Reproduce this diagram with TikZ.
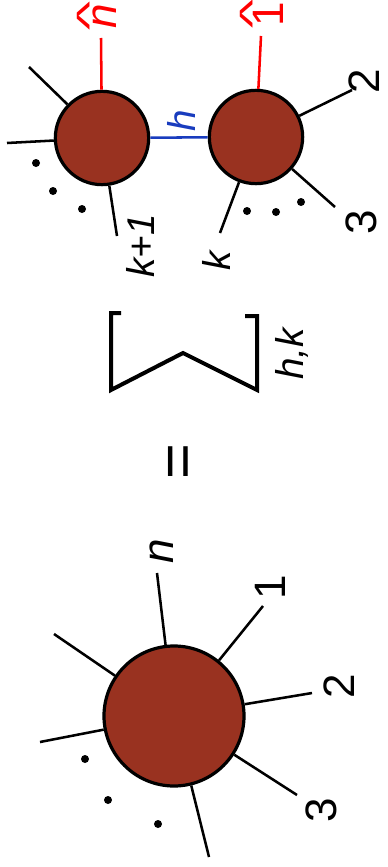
\documentclass[tikz,border=0pt]{standalone}
\usepackage{fontspec}
\setmainfont{Liberation Sans}
\usepackage{xcolor}
\usepackage{graphicx}
\usepackage{tikz}
\usetikzlibrary{calc}
\definecolor{blobbrown}{RGB}{153,50,32}
\definecolor{linkblue}{RGB}{25,60,190}
% letter with a wide hat stacked on it
\newcommand\hatted[2]{\leavevmode\vbox{\offinterlineskip\halign{\hfil##\hfil\cr
  \scalebox{1.4}[0.8]{\textasciicircum}\cr\noalign{\kern#2}#1\cr}}}

\begin{document}
\begin{tikzpicture}[x=0.75pt,y=-0.75pt,
  blob/.style={circle,draw=black,line width=2.4pt,fill=blobbrown,inner sep=0pt},
  leg/.style={line width=1.9pt},
  lab/.style={rotate=90,inner sep=0pt,font=\fontsize{33}{33}\selectfont},
  klab/.style={lab,font=\fontsize{29}{29}\selectfont\itshape}]
\useasboundingbox (0,0) rectangle (388,867);
% left hand side
\node[blob,minimum size=105pt] (big) at (174,716) {};
\foreach \nm/\px/\py in {bn/157/573,bone/263/606,btwo/312/693,bthree/297/795,bbot/209/857,bleft/40/742,bul/54/634}{
  \coordinate (\nm) at (\px,\py);
  \draw[leg] (big) -- (\nm);}
\foreach \px/\py in {85/759,108/800,158/824}{\fill (\px,\py) circle (4);}
\node[lab] (lbn) at (162,551) {\itshape n};
\node[lab] (lbone) at (270,587) {1};
\node[lab] (lbtwo) at (339,686) {2};
\node[lab] (lbthree) at (321,810) {3};
% equals and sum
\node[lab,font=\fontsize{46}{46}\selectfont] (eq) at (183,462) {=};
\draw[line width=3pt] (121,313) -- (111,313) -- (111,390) -- (183,353) -- (257,390) -- (257,316) -- (245,316);
\node[klab] (sumidx) at (292,354) {h,k};
% right hand side
\node[blob,minimum size=70pt] (lft) at (102,138) {};
\node[blob,minimum size=70pt] (rgt) at (256,137) {};
\draw[leg,linkblue] (lft) -- (rgt);
\node[klab,text=linkblue] (lh) at (181,121) {h};
\foreach \nm/\px/\py in {lul/29/67,lleft/7/143,lbot/117/236}{
  \coordinate (\nm) at (\px,\py);
  \draw[leg] (lft) -- (\nm);}
\foreach \nm/\px/\py in {rup/352/90,rdown/335/207,rbot/220/233}{
  \coordinate (\nm) at (\px,\py);
  \draw[leg] (rgt) -- (\nm);}
\coordinate (lred) at (101,38);
\coordinate (rred) at (261,36);
\draw[leg,red] (lft) -- (lred);
\draw[leg,red] (rgt) -- (rred);
\foreach \px/\py in {36/163,53/191,82/209,247/211,276/212,301/202}{\fill (\px,\py) circle (4);}
\node[lab,text=red] (lnhat) at (97,16) {\hatted{\itshape n}{-7pt}};
\node[lab,text=red] (lonehat) at (262,14) {\hatted{1}{-8pt}};
\node[klab] (lkone) at (140,246) {k+1};
\node[klab] (lk) at (216,261) {k};
\node[lab] (ltwo) at (364,81) {2};
\node[lab] (lthree) at (361,222) {3};
\end{tikzpicture}
\end{document}
